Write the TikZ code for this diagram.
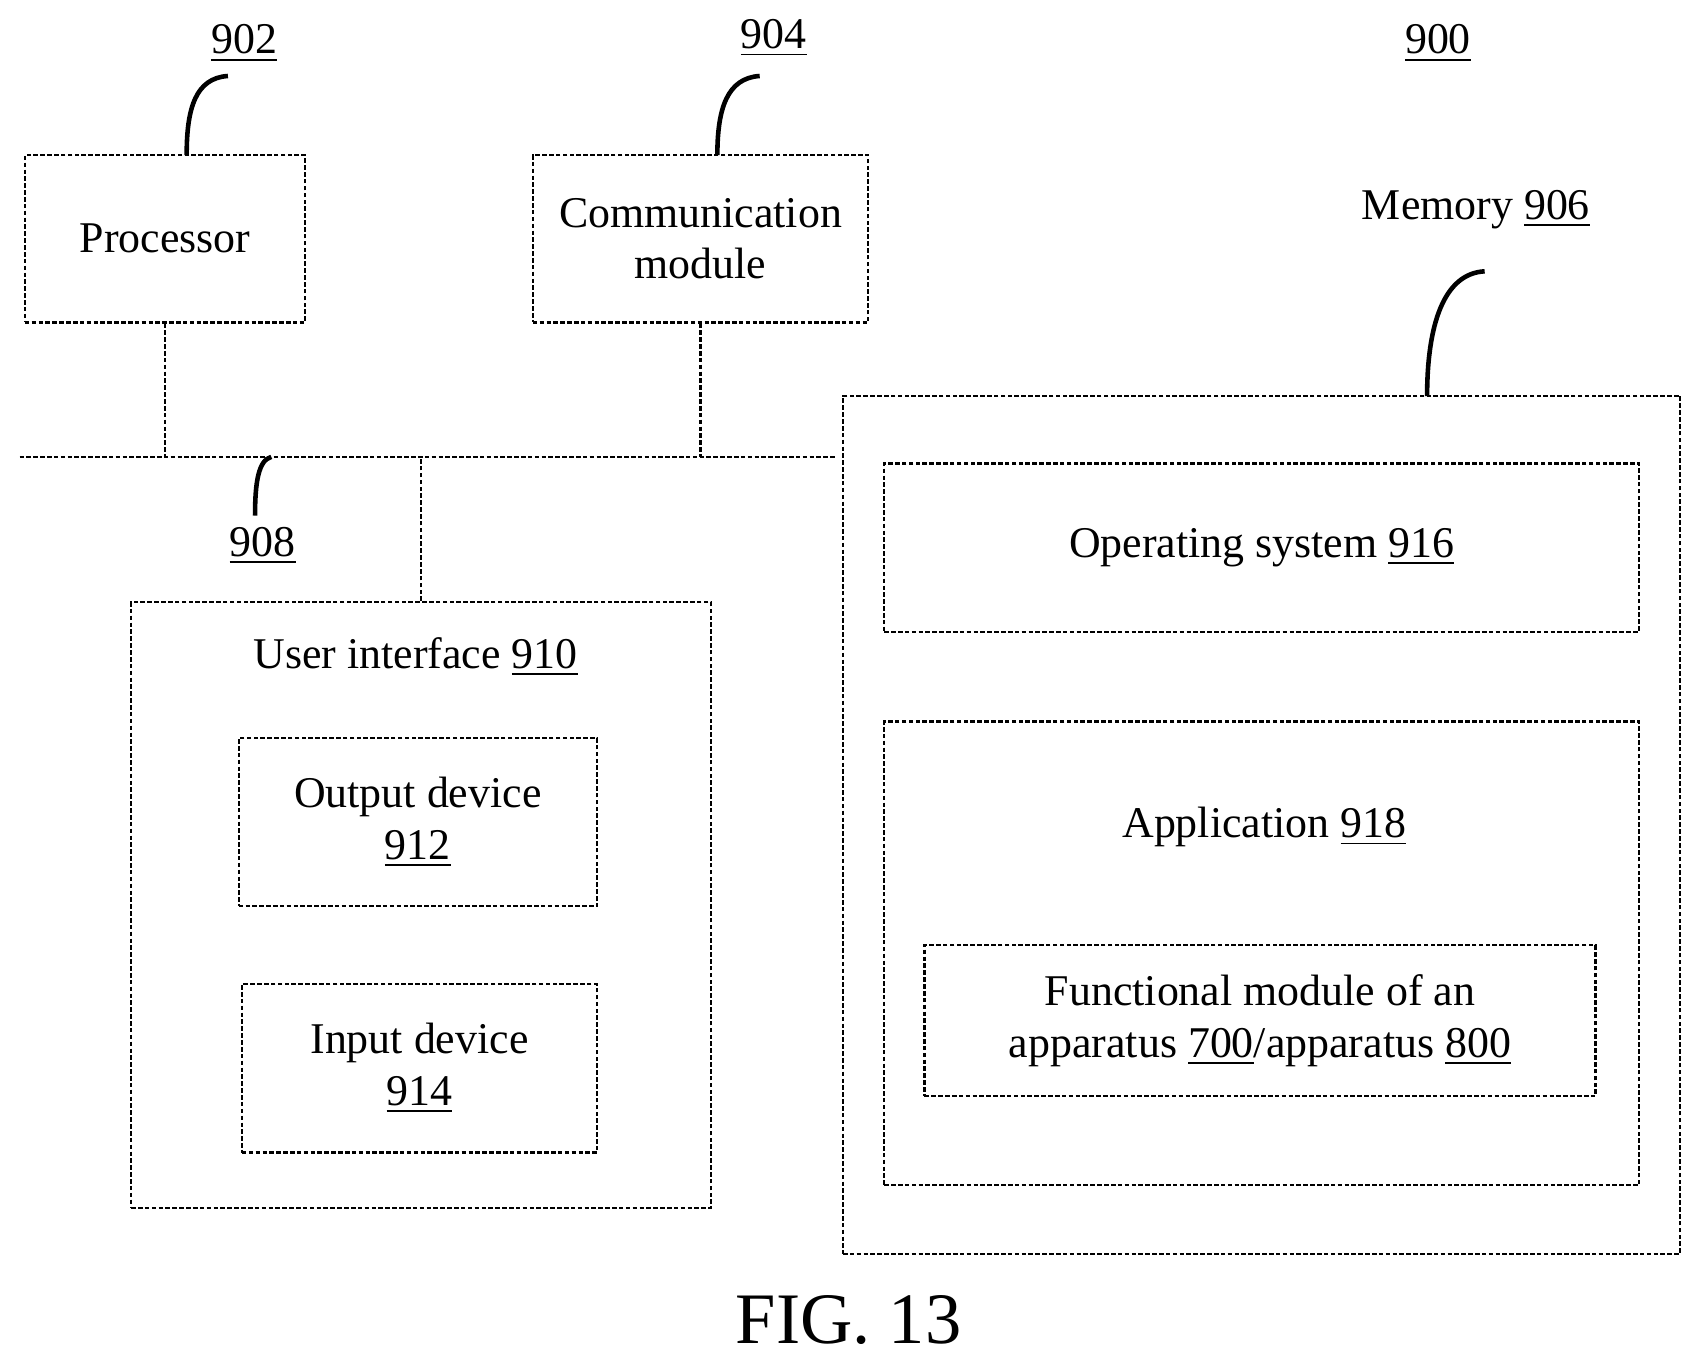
\documentclass[tikz,border=0pt]{standalone}
\usepackage{fontspec}
\setmainfont{Liberation Serif}
\usetikzlibrary{positioning}

\begin{document}
\begin{tikzpicture}[x=0.01cm, y=-0.01cm]%
  \tikzset{box/.style={draw, line width=0.6pt, dash pattern=on 1.2pt off 0.6pt, inner sep=0pt, align=center},
           bus/.style={draw, line width=0.6pt, dash pattern=on 1.2pt off 0.6pt},
           lead/.style={draw, line width=1.2pt},
           every node/.style={font=\fontsize{11.5}{13.5}\selectfont}}
  \useasboundingbox (0,0) rectangle (1560,1254);

  % top level boxes
  \node[box, minimum width=2.58cm, minimum height=1.54cm] at (152,220) (proc) {Processor};
  \node[box, minimum width=3.09cm, minimum height=1.54cm] at (645.5,220) (comm) {Communication\\module};
  \node[box, minimum width=7.71cm, minimum height=7.9cm] at (1162.5,760) (mem) {};
  \node[box, minimum width=5.34cm, minimum height=5.58cm] at (388,834) (ui) {};

  % inside memory
  \node[box, minimum width=6.95cm, minimum height=1.55cm] at (1162.5,504.5) (os) {Operating system \underline{916}};
  \node[box, minimum width=6.95cm, minimum height=4.27cm] at (1162.5,878.5) (app) {};
  \node at (1165,762) (applbl) {Application \underline{918}};
  \node[box, minimum width=6.18cm, minimum height=1.39cm] at (1161,940.5) (func) {Functional module of an\\apparatus \underline{700}/apparatus \underline{800}};

  % inside user interface
  \node at (383,605) (uilbl) {User interface \underline{910}};
  \node[box, minimum width=3.3cm, minimum height=1.55cm] at (385,757.5) (out) {Output device\\\underline{912}};
  \node[box, minimum width=3.27cm, minimum height=1.55cm] at (386.5,984.5) (in) {Input device\\\underline{914}};

  % bus
  \coordinate (busL) at (18,421);
  \coordinate (busR) at (770,421);
  \path[bus] (busL) -- (busR);
  \path[bus] (proc.south) -- (proc.south |- busL);
  \path[bus] (comm.south) -- (comm.south |- busL);
  \path[bus] (ui.north) -- (ui.north |- busL);

  % reference numerals
  \node at (225,40) (n902) {\underline{902}};
  \node at (713,35) (n904) {\underline{904}};
  \node at (1325,40) (n900) {\underline{900}};
  \node at (1360,193) (n906) {Memory \underline{906}};
  \node at (242,503) (n908) {\underline{908}};
  \path[lead] (172,143) .. controls (172,100) and (180,72) .. (210,70);
  \path[lead] (661,143) .. controls (661,100) and (670,72) .. (700,70);
  \path[lead] (1315,365) .. controls (1315,300) and (1330,252) .. (1368,250);
  \path[lead] (235,475) .. controls (235,445) and (238,424) .. (250,421);

  \node[font=\fontsize{19}{20}\selectfont] at (782,1216) (fig) {FIG. 13};
\end{tikzpicture}
\end{document}
